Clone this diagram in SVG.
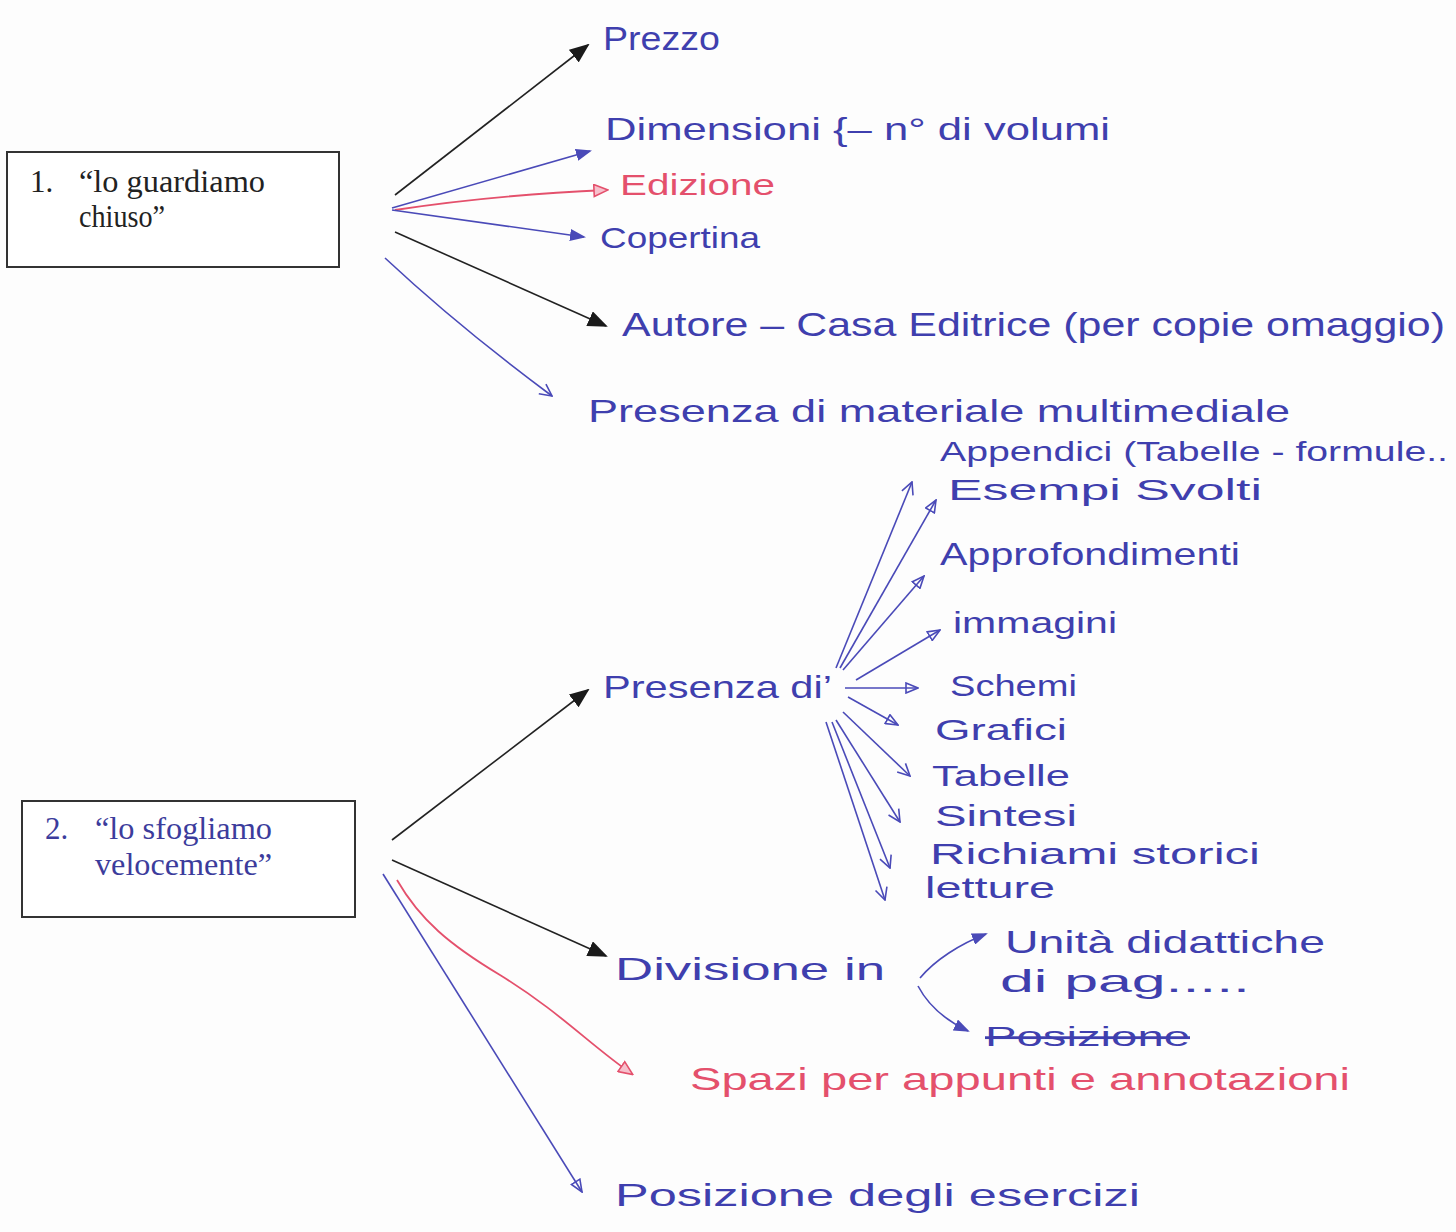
<svg xmlns="http://www.w3.org/2000/svg" width="1456" height="1232" viewBox="0 0 1456 1232">
<style>
.box{fill:#ffffff;stroke:#333;stroke-width:2}
.bt{font-family:"Liberation Serif",serif;font-size:31px;fill:#222}
.bt2{font-family:"Liberation Serif",serif;font-size:31px;fill:#3c3c9c}
.hw{font-family:"Liberation Sans",Arial,sans-serif;fill:#3f3fae}
.red{fill:#e4506c}
.lk{stroke:#222;stroke-width:1.6;fill:none}
.lb{stroke:#4a4ab8;stroke-width:1.6;fill:none}
.lr{stroke:#e4506c;stroke-width:1.8;fill:none}
</style>
<defs>
<marker id="mK" viewBox="0 0 20 16" refX="18" refY="8" markerWidth="20" markerHeight="16" orient="auto" markerUnits="userSpaceOnUse"><path d="M0,0 L20,8 L0,16 z" fill="#1a1a1a"/></marker>
<marker id="mB" viewBox="0 0 16 12" refX="14" refY="6" markerWidth="16" markerHeight="12" orient="auto" markerUnits="userSpaceOnUse"><path d="M0,0 L16,6 L0,12 z" fill="#4a4ab8"/></marker>
<marker id="mBo" viewBox="0 0 14 12" refX="13" refY="6" markerWidth="14" markerHeight="12" orient="auto" markerUnits="userSpaceOnUse"><path d="M1,1 L13,6 L1,11 z" fill="none" stroke="#4a4ab8" stroke-width="1.6"/></marker>
<marker id="mBv" viewBox="0 0 14 14" refX="13" refY="7" markerWidth="14" markerHeight="14" orient="auto" markerUnits="userSpaceOnUse"><path d="M1,1 L13,7 L1,13" fill="none" stroke="#4a4ab8" stroke-width="1.6"/></marker>
<marker id="mR" viewBox="0 0 16 14" refX="14" refY="7" markerWidth="16" markerHeight="14" orient="auto" markerUnits="userSpaceOnUse"><path d="M1,1 L15,7 L1,13 z" fill="#f6c0cc" stroke="#e4506c" stroke-width="1.6"/></marker>
</defs>
<rect width="1456" height="1232" fill="#fdfdfd"/>

<g id="connectors">
<line class="lk" x1="395" y1="195" x2="588" y2="45" marker-end="url(#mK)"/>
<line class="lb" x1="392" y1="208" x2="590" y2="151" marker-end="url(#mB)"/>
<path class="lr" d="M395,210 C460,200 540,193 607,190" marker-end="url(#mR)"/>
<line class="lb" x1="392" y1="210" x2="584" y2="237" marker-end="url(#mB)"/>
<line class="lk" x1="395" y1="232" x2="606" y2="326" marker-end="url(#mK)"/>
<path class="lb" d="M385,258 C430,300 490,350 552,396" marker-end="url(#mBv)"/>

<line class="lk" x1="392" y1="840" x2="588" y2="690" marker-end="url(#mK)"/>
<line class="lk" x1="392" y1="860" x2="606" y2="956" marker-end="url(#mK)"/>
<path class="lr" d="M397,880 C420,920 450,945 500,975 C560,1012 590,1045 632,1074" marker-end="url(#mR)"/>
<line class="lb" x1="383" y1="874" x2="582" y2="1192" marker-end="url(#mBo)"/>

<line class="lb" x1="836" y1="668" x2="912" y2="482" marker-end="url(#mBv)"/>
<line class="lb" x1="840" y1="668" x2="936" y2="500" marker-end="url(#mBo)"/>
<line class="lb" x1="843" y1="670" x2="924" y2="576" marker-end="url(#mBo)"/>
<line class="lb" x1="856" y1="680" x2="940" y2="630" marker-end="url(#mBo)"/>
<line class="lb" x1="845" y1="688" x2="918" y2="688" marker-end="url(#mBo)"/>
<line class="lb" x1="848" y1="697" x2="898" y2="725" marker-end="url(#mBo)"/>
<line class="lb" x1="843" y1="712" x2="910" y2="776" marker-end="url(#mBv)"/>
<line class="lb" x1="836" y1="720" x2="900" y2="822" marker-end="url(#mBv)"/>
<line class="lb" x1="832" y1="722" x2="890" y2="868" marker-end="url(#mBv)"/>
<line class="lb" x1="826" y1="722" x2="885" y2="900" marker-end="url(#mBv)"/>

<path class="lb" d="M920,978 C935,960 960,944 986,934" marker-end="url(#mB)"/>
<path class="lb" d="M918,986 C928,1005 945,1020 968,1031" marker-end="url(#mB)"/>
</g>

<g id="node-box1">
<rect class="box" x="7" y="152" width="332" height="115"/>
<text class="bt" x="30" y="192">1.</text>
<text class="bt" x="79" y="192" textLength="186" lengthAdjust="spacingAndGlyphs">“lo guardiamo</text>
<text class="bt" x="79" y="227" textLength="86" lengthAdjust="spacingAndGlyphs">chiuso”</text>
</g>
<g id="node-box2">
<rect class="box" x="22" y="801" width="333" height="116"/>
<text class="bt2" x="45" y="839">2.</text>
<text class="bt2" x="95" y="839" textLength="177" lengthAdjust="spacingAndGlyphs">“lo sfogliamo</text>
<text class="bt2" x="95" y="875" textLength="177" lengthAdjust="spacingAndGlyphs">velocemente”</text>
</g>

<g id="node-prezzo"><text class="hw" x="603" y="50" font-size="34" textLength="117" lengthAdjust="spacingAndGlyphs">Prezzo</text></g>
<g id="node-dimensioni"><text class="hw" x="605" y="140" font-size="32" textLength="505" lengthAdjust="spacingAndGlyphs">Dimensioni {– n° di volumi</text></g>
<g id="node-edizione"><text class="hw red" x="620" y="195" font-size="30" textLength="155" lengthAdjust="spacingAndGlyphs">Edizione</text></g>
<g id="node-copertina"><text class="hw" x="600" y="248" font-size="30" textLength="160" lengthAdjust="spacingAndGlyphs">Copertina</text></g>
<g id="node-autore"><text class="hw" x="622" y="336" font-size="34" textLength="823" lengthAdjust="spacingAndGlyphs">Autore – Casa Editrice (per copie omaggio)</text></g>
<g id="node-multimediale"><text class="hw" x="588" y="422" font-size="32" textLength="702" lengthAdjust="spacingAndGlyphs">Presenza di materiale multimediale</text></g>
<g id="node-appendici"><text class="hw" x="940" y="461" font-size="27" textLength="508" lengthAdjust="spacingAndGlyphs">Appendici (Tabelle - formule..</text></g>

<g id="node-presenza"><text class="hw" x="603" y="698" font-size="32" textLength="229" lengthAdjust="spacingAndGlyphs">Presenza   di’</text></g>
<g id="node-esempi"><text class="hw" x="948" y="500" font-size="29" textLength="314" lengthAdjust="spacingAndGlyphs">Esempi Svolti</text></g>
<g id="node-approfondimenti"><text class="hw" x="940" y="565" font-size="32" textLength="300" lengthAdjust="spacingAndGlyphs">Approfondimenti</text></g>
<g id="node-immagini"><text class="hw" x="953" y="633" font-size="30" textLength="164" lengthAdjust="spacingAndGlyphs">immagini</text></g>
<g id="node-schemi"><text class="hw" x="950" y="696" font-size="30" textLength="127" lengthAdjust="spacingAndGlyphs">Schemi</text></g>
<g id="node-grafici"><text class="hw" x="935" y="740" font-size="30" textLength="132" lengthAdjust="spacingAndGlyphs">Grafici</text></g>
<g id="node-tabelle"><text class="hw" x="932" y="786" font-size="30" textLength="138" lengthAdjust="spacingAndGlyphs">Tabelle</text></g>
<g id="node-sintesi"><text class="hw" x="935" y="826" font-size="30" textLength="142" lengthAdjust="spacingAndGlyphs">Sintesi</text></g>
<g id="node-richiami"><text class="hw" x="930" y="864" font-size="30" textLength="330" lengthAdjust="spacingAndGlyphs">Richiami storici</text></g>
<g id="node-letture"><text class="hw" x="925" y="898" font-size="30" textLength="130" lengthAdjust="spacingAndGlyphs">letture</text></g>

<g id="node-divisione"><text class="hw" x="615" y="980" font-size="32" textLength="270" lengthAdjust="spacingAndGlyphs">Divisione in</text></g>
<g id="node-unita">
<text class="hw" x="1005" y="953" font-size="32" textLength="320" lengthAdjust="spacingAndGlyphs">Unità didattiche</text>
<text class="hw" x="1000" y="992" font-size="32" textLength="250" lengthAdjust="spacingAndGlyphs">di pag.....</text>
</g>
<g id="node-posizione-barrata"><text class="hw" x="985" y="1046" font-size="28" textLength="205" lengthAdjust="spacingAndGlyphs" text-decoration="line-through">Posizione</text></g>
<g id="node-spazi"><text class="hw red" x="690" y="1090" font-size="32" textLength="660" lengthAdjust="spacingAndGlyphs">Spazi per appunti e annotazioni</text></g>
<g id="node-esercizi"><text class="hw" x="615" y="1206" font-size="32" textLength="525" lengthAdjust="spacingAndGlyphs">Posizione degli esercizi</text></g>
</svg>
